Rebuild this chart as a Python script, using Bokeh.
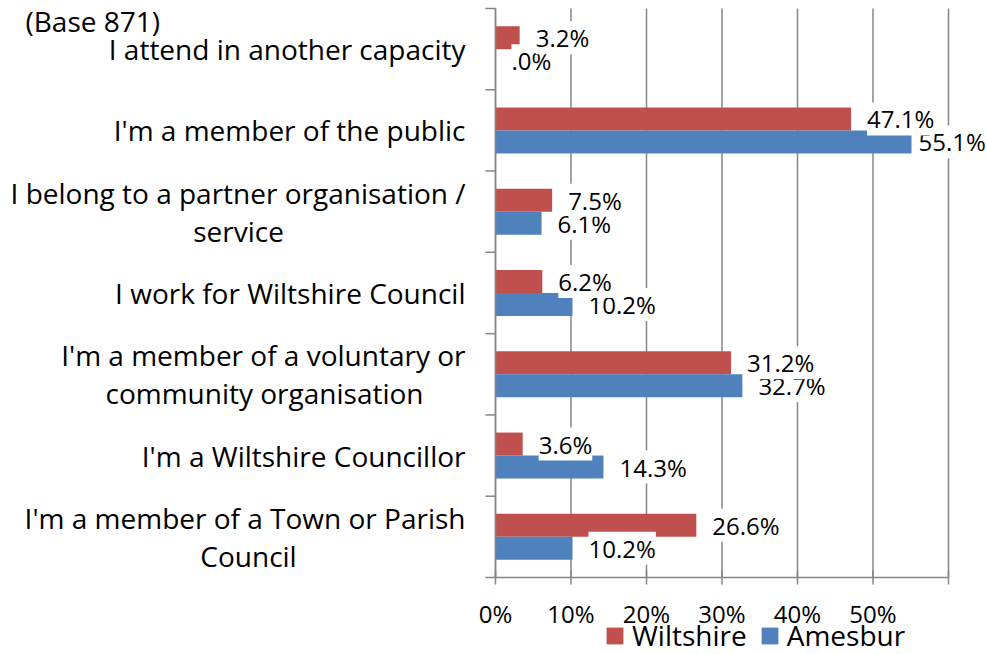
import numpy as np
from bokeh.plotting import figure
from bokeh.models import (ColumnDataSource, LabelSet, Legend, LegendItem, Range1d)
from bokeh.core.properties import value
from bokeh.embed import file_html
from bokeh.resources import INLINE

# ---- data (bottom category first) ----
category_lines = [
    ["I'm a member of a Town or Parish", "Council"],
    ["I'm a Wiltshire Councillor"],
    ["I'm a member of a voluntary or", "community organisation"],
    ["I work for Wiltshire Council"],
    ["I belong to a partner organisation /", "service"],
    ["I'm a member of the public"],
    ["I attend in another capacity"],
]
wiltshire = [26.6, 3.6, 31.2, 6.2, 7.5, 47.1, 3.2]
amesbury = [10.2, 14.3, 32.7, 10.2, 6.1, 55.1, 0.0]
series_names = ["Wiltshire", "Amesbur"]
x_ticks = [0, 10, 20, 30, 40, 50, 60]
x_tick_labels = ["0%", "10%", "20%", "30%", "40%", "50%", ""]
base_note = "(Base 871)"

# ---- layout (pixels) ----
W, H = 987, 654
PLOT_L, PLOT_R = 495, 948       # x = 0 and x = 60 on the canvas
PLOT_T, PLOT_B = 8, 577         # top and bottom of the category area
FONT_NAME = "Open Sans"
FONT = value(FONT_NAME)
FS_BIG = "28px"
FS_NUM = "24px"
RED = "#C0504D"
BLUE = "#4F81BD"
GRID = "#868686"
# second-line centre offsets (px left of axis) for wrapped labels
second_line_center = {0: -247, 2: -231, 4: -257}


def fmt(v):
    s = f"{v:.1f}%"
    if s.startswith("0."):
        s = s[1:]
    return s


n = len(category_lines)
xmax = x_ticks[-1]
xpx = (PLOT_R - PLOT_L) / xmax
ypx = (PLOT_B - PLOT_T) / n
x_range = Range1d(-PLOT_L / xpx, (W - PLOT_L) / xpx)
y_range = Range1d(-(H - PLOT_B) / ypx, n + PLOT_T / ypx)

p = figure(width=W, height=H, x_range=x_range, y_range=y_range,
           output_backend="svg", toolbar_location=None,
           x_axis_location=None, y_axis_location=None,
           min_border=0)
p.outline_line_color = None
p.grid.visible = False
p.background_fill_color = "white"
p.border_fill_color = "white"

idx = np.arange(n)
bar_h = 0.283

# gridlines
p.segment(x0=x_ticks, y0=[0] * len(x_ticks), x1=x_ticks, y1=[n] * len(x_ticks),
          line_color=GRID, line_width=1.5)

src_w = ColumnDataSource(dict(y=idx + 0.5 + bar_h / 2, v=wiltshire,
                              lab=[fmt(v) for v in wiltshire],
                              off=[16 if v < 50 else 7 for v in wiltshire]))
src_a = ColumnDataSource(dict(y=idx + 0.5 - bar_h / 2, v=amesbury,
                              lab=[fmt(v) for v in amesbury],
                              off=[16 if v < 50 else 7 for v in amesbury]))

r_w = p.hbar(y="y", left=0, right="v", height=bar_h, source=src_w,
             fill_color=RED, line_color=None)
r_a = p.hbar(y="y", left=0, right="v", height=bar_h, source=src_a,
             fill_color=BLUE, line_color=None)

# axes
p.segment(x0=[0, 0], y0=[0, 0], x1=[xmax, 0], y1=[0, n], line_color=GRID, line_width=1.5)
p.scatter(x=x_ticks, y=[0] * len(x_ticks), marker="dash", angle=np.pi / 2, size=14,
          line_color=GRID, line_width=1.5)
p.ray(x=[0] * (n + 1), y=list(range(n + 1)), length=10, length_units="screen",
      angle=np.pi, line_color=GRID, line_width=1.5)
p.text(x=x_ticks, y=[0] * len(x_ticks), text=x_tick_labels, y_offset=36,
       text_font=FONT, text_font_size=FS_NUM, text_color="black",
       text_align="center", text_baseline="middle")

# data labels (Wiltshire labels drawn last, on top)
for src in (src_a, src_w):
    p.add_layout(LabelSet(x="v", y="y", text="lab", source=src, x_offset="off",
                          text_font=FONT, text_font_size=FS_NUM, text_color="black",
                          text_align="left", text_baseline="middle",
                          background_fill_color="white", level="overlay"))

# category labels
one = [i for i, l in enumerate(category_lines) if len(l) == 1]
two = [i for i, l in enumerate(category_lines) if len(l) == 2]
p.text(x=[0] * len(one), y=[i + 0.5 for i in one], text=[category_lines[i][0] for i in one],
       x_offset=-30, text_font=FONT, text_font_size=FS_BIG, text_color="black",
       text_align="right", text_baseline="middle")
p.text(x=[0] * len(two), y=[i + 0.5 for i in two], text=[category_lines[i][0] for i in two],
       x_offset=-30, y_offset=-19, text_font=FONT, text_font_size=FS_BIG, text_color="black",
       text_align="right", text_baseline="middle")
p.text(x=[0] * len(two), y=[i + 0.5 for i in two], text=[category_lines[i][1] for i in two],
       x_offset=[second_line_center[i] for i in two], y_offset=19, text_font=FONT,
       text_font_size=FS_BIG, text_color="black", text_align="center", text_baseline="middle")

p.text(x=[0], y=[n], text=[base_note], x_offset=-470, y_offset=12,
       text_font=FONT, text_font_size=FS_BIG, text_color="black",
       text_align="left", text_baseline="middle")

legend = Legend(items=[LegendItem(label=series_names[0], renderers=[r_w]),
                       LegendItem(label=series_names[1], renderers=[r_a])],
                location=(604, 0), orientation="horizontal",
                glyph_width=21, glyph_height=21, label_standoff=7, spacing=12,
                padding=0, margin=0, border_line_color=None,
                background_fill_alpha=0, label_text_font=FONT_NAME,
                label_text_font_size=FS_BIG, label_text_color="black")
p.add_layout(legend)

open("out.html", "w").write(file_html(p, INLINE))
